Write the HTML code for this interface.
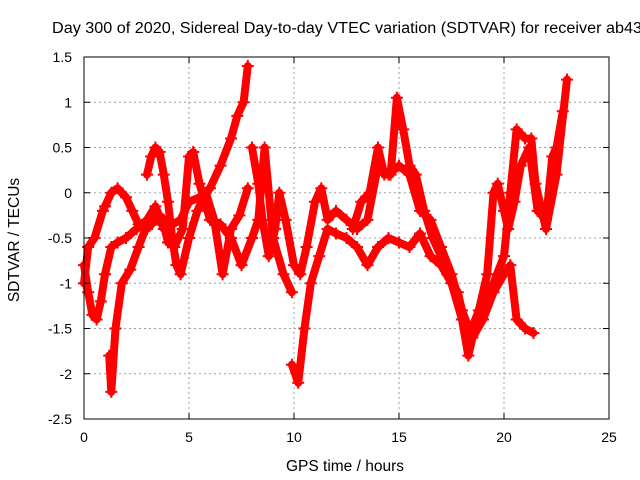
<!DOCTYPE html>
<html><head><meta charset="utf-8"><style>
body{margin:0;background:#fff}
svg{display:block;font-family:"Liberation Sans",sans-serif}
</style></head><body>
<svg id="chart" width="640" height="480" viewBox="0 0 640 480">
<rect width="640" height="480" fill="#fff"/>
<text x="52" y="33" font-size="15.5" textLength="590" lengthAdjust="spacingAndGlyphs" fill="#000">Day 300 of 2020, Sidereal Day-to-day VTEC variation (SDTVAR) for receiver ab43</text>
<g id="grid"></g>
<g id="series"></g>
<rect x="84" y="57" width="525" height="362" fill="none" stroke="#000" stroke-width="1"/>
<g id="ticks"></g>
<text x="345" y="471" font-size="15.5" text-anchor="middle">GPS time / hours</text>
<text transform="translate(19,240) rotate(-90)" font-size="15.5" text-anchor="middle">SDTVAR / TECUs</text>
</svg>
<script>
const xTicks=[0,5,10,15,20,25];
const yTicks=[1.5,1,0.5,0,-0.5,-1,-1.5,-2,-2.5];
const yTickLabels=["1.5","1","0.5","0","-0.5","-1","-1.5","-2","-2.5"];
const t1=[0,0.2,0.4,0.6,0.8,1.0,1.3,1.6,2.0,2.5,3.0,3.4,3.8,4.2,4.6,5.0,5.5,6.0,6.5,7.0,7.3,7.6,7.8];
const v1=[-0.8,-1.1,-1.35,-1.4,-1.2,-0.9,-0.6,-0.55,-0.5,-0.4,-0.3,-0.15,-0.4,-0.35,-0.3,-0.1,-0.05,0.05,0.3,0.6,0.85,1.0,1.4];
const t2=[0.0,0.2,0.5,0.9,1.0,1.3,1.6,2.0,2.3,2.6,3.0,3.4,3.8,4.0];
const v2=[-1.0,-0.6,-0.5,-0.2,-0.15,0.0,0.05,-0.05,-0.2,-0.35,-0.4,-0.3,-0.35,-0.55];
const t3=[3.0,3.2,3.4,3.6,3.8,4.0,4.2,4.4,4.6,5.0,5.4,5.8,6.2,6.6,7.0,7.4,7.8];
const v3=[0.2,0.4,0.5,0.45,0.2,-0.1,-0.5,-0.8,-0.9,-0.5,-0.2,0.0,-0.3,-0.9,-0.4,-0.25,0.05];
const t4=[1.2,1.3,1.5,1.8,2.2,2.6,3.0,3.4,3.8,4.3,4.7,5.0,5.2,5.5,6.0,6.5,7.0,7.5,8.0,8.3,8.6,9.0,9.5,9.9];
const v4=[-1.8,-2.2,-1.5,-1.0,-0.85,-0.6,-0.35,-0.2,-0.3,-0.6,-0.4,0.4,0.45,0.1,-0.3,-0.35,-0.5,-0.8,-0.5,-0.3,0.5,-0.5,-0.9,-1.1];
const t5=[8.0,8.3,8.5,8.8,9.1,9.3,9.6,10.0,10.3,10.6,11.0,11.3,11.6,12.0,12.5,13.0,13.5,14.0,14.5,15.0,15.5,16.0,16.5,17.0,17.5,18.0,18.5,19.0,19.5,20.0,20.3,20.6,21.0,21.4];
const v5=[0.5,0.1,-0.3,-0.7,-0.4,0.0,-0.3,-0.8,-0.9,-0.6,-0.1,0.05,-0.3,-0.2,-0.3,-0.4,-0.3,0.3,0.2,0.3,0.2,-0.2,-0.3,-0.6,-0.9,-1.3,-1.6,-1.4,-1.1,-0.9,-0.8,-1.4,-1.5,-1.55];
const t6=[9.9,10.2,10.5,10.8,11.2,11.6,12.0,12.5,13.0,13.5,14.0,14.5,15.0,15.5,16.0,16.5,17.0,17.5,18.0,18.3,18.5,19.0,19.5,20.0,20.3,20.6,21.0,21.3,21.5,22.0,22.5,23.0];
const v6=[-1.9,-2.1,-1.5,-1.0,-0.7,-0.4,-0.45,-0.5,-0.6,-0.8,-0.6,-0.5,-0.55,-0.6,-0.45,-0.7,-0.8,-1.0,-1.4,-1.8,-1.6,-1.3,-1.0,-0.7,0.0,0.7,0.6,0.6,0.1,-0.4,0.2,1.25];
const t7=[12.8,13.2,13.6,14.0,14.3,14.6,14.9,15.2,15.5,15.8,16.2,16.6,17.0,17.3,17.8,18.3,18.8,19.2,19.5,19.7,20.0,20.2,20.5,20.8,21.2,21.6,22.0,22.3,22.5,22.8];
const v7=[-0.4,-0.1,0.0,0.5,0.2,0.2,1.05,0.7,0.3,0.2,-0.2,-0.5,-0.7,-0.9,-1.1,-1.6,-1.3,-0.9,0.0,0.1,-0.2,-0.4,-0.1,0.3,0.5,-0.2,-0.3,0.4,0.5,0.9];
const seriesT=[t1,t2,t3,t4,t5,t6,t7];
const seriesV=[v1,v2,v3,v4,v5,v6,v7];

const X0=84,X1=609,Y0=419,Y1=57;
function xs(t){return X0+(t-0)/(25-0)*(X1-X0);}
function ys(v){return Y0-(v+2.5)/(1.5+2.5)*(Y0-Y1);}
const NS="http://www.w3.org/2000/svg";
function mk(tag,attrs,parent){const e=document.createElementNS(NS,tag);for(const k in attrs)e.setAttribute(k,attrs[k]);parent.appendChild(e);return e;}
const grid=document.getElementById('grid'),ticks=document.getElementById('ticks'),ser=document.getElementById('series');
xTicks.forEach((t,i)=>{
  const x=xs(t);
  if(i>0&&i<xTicks.length-1){const g=mk('line',{x1:x,x2:x,y1:Y1,y2:Y0,stroke:'#a0a0a0','stroke-dasharray':'2,3'},grid);
  
  }
  const a=mk('line',{x1:x,x2:x,y1:Y0,y2:Y0-6,stroke:'#000'},ticks);
  
  
  const b=mk('line',{x1:x,x2:x,y1:Y1,y2:Y1+6,stroke:'#000'},ticks);
  
  
  const l=mk('text',{x:x,y:442,'font-size':'14','text-anchor':'middle'},ticks);l.textContent=String(t);
  
  
});
yTicks.forEach((v,i)=>{
  const y=ys(v);
  if(i>0&&i<yTicks.length-1){const g=mk('line',{x1:X0,x2:X1,y1:y,y2:y,stroke:'#a0a0a0','stroke-dasharray':'2,3'},grid);
  
  }
  const a=mk('line',{x1:X0,x2:X0+6,y1:y,y2:y,stroke:'#000'},ticks);
  
  
  const b=mk('line',{x1:X1,x2:X1-6,y1:y,y2:y,stroke:'#000'},ticks);
  
  
  const l=mk('text',{x:72,y:y+5,'font-size':'14','text-anchor':'end'},ticks);l.textContent=yTickLabels[i];
  
  
});
seriesT.forEach((T,s)=>{
  const V=seriesV[s];
  const pts=T.map((t,i)=>xs(t)+','+ys(V[i])).join(' ');
  const pl=mk('polyline',{points:pts,fill:'none',stroke:'#ff0000','stroke-width':'8','stroke-linejoin':'round','stroke-linecap':'round'},ser);
  
  
  T.forEach((t,i)=>{
    const x=xs(t),y=ys(V[i]);
    const p=mk('path',{d:`M${x-6},${y}H${x+6}M${x},${y-6}V${y+6}`,stroke:'#ff0000','stroke-width':'2'},ser);
    
    
  });
});
</script>
</body></html>
